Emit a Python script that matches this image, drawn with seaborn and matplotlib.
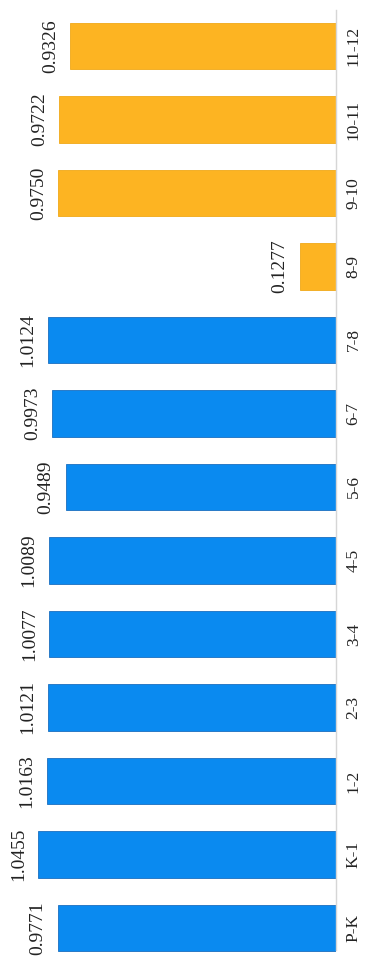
import matplotlib
matplotlib.use("Agg")
import matplotlib.pyplot as plt
import seaborn as sns
import pandas as pd

categories = ["P-K", "K-1", "1-2", "2-3", "3-4", "4-5", "5-6", "6-7", "7-8",
              "8-9", "9-10", "10-11", "11-12"]
values = [0.9771, 1.0455, 1.0163, 1.0121, 1.0077, 1.0089, 0.9489, 0.9973, 1.0124,
          0.1277, 0.9750, 0.9722, 0.9326]
groups = ["A"] * 9 + ["B"] * 4
labels = ["0.9771", "1.0455", "1.0163", "1.0121", "1.0077", "1.0089", "0.9489",
          "0.9973", "1.0124", "0.1277", "0.9750", "0.9722", "0.9326"]
palette = {"A": "#0A8AF0", "B": "#FDB422"}

sns.set_theme(style="white")
plt.rcParams['font.family'] = ['Liberation Serif', 'DejaVu Serif']

df = pd.DataFrame({"cat": categories, "val": values, "grp": groups})
order = categories[::-1]

fig = plt.figure(figsize=(3.67, 9.77), dpi=100)
ax = fig.add_axes([0, 0, 336 / 367, 1])
sns.barplot(data=df, y="cat", x="val", hue="grp", order=order, palette=palette,
            dodge=False, width=0.63, orient="h", ax=ax, legend=False,
            edgecolor="#1a6fc0", linewidth=0.6, saturation=1)
for p in ax.patches:
    fc = p.get_facecolor()
    if fc[0] > 0.5:
        p.set_edgecolor("#f0a818")

ax.set_xlim(1.18, 0)
ax.set_ylim(12.667, -0.626)
ax.set_xlabel("")
ax.set_ylabel("")
ax.set_xticks([])
ax.yaxis.tick_right()
ax.tick_params(axis="y", length=0, pad=7, labelsize=12.5, labelrotation=90,
               labelcolor="#222222")
for t in ax.get_yticklabels():
    t.set_va("center")

for s in ["left", "top", "bottom"]:
    ax.spines[s].set_visible(False)
ax.spines["right"].set_color("#d6d6d6")
ax.spines["right"].set_linewidth(1.0)
ax.spines["right"].set_bounds(12.3, -0.49)

for cat, v, lab in zip(categories, values, labels):
    yi = order.index(cat)
    ax.annotate(lab, xy=(v, yi), xytext=(-8, 0), textcoords="offset points",
                rotation=90, ha="right", va="center", fontsize=14, color="#222222")

fig.savefig("out.png", dpi=100)
